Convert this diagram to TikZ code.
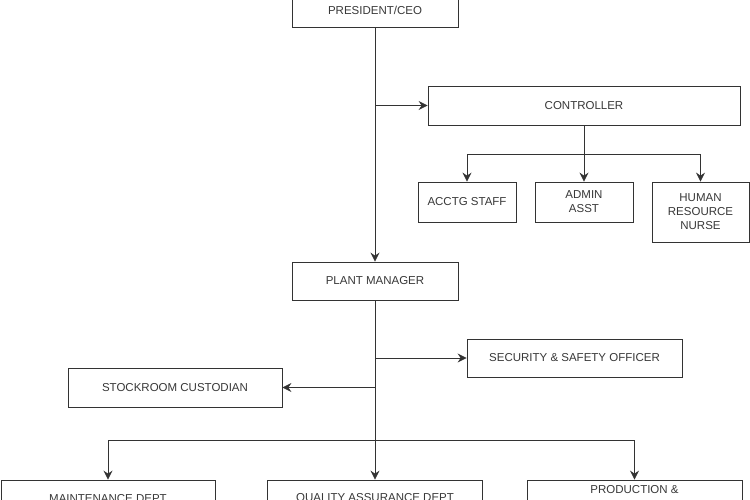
\documentclass[tikz,border=0pt]{standalone}
\usepackage{fontspec}
\setmainfont{Liberation Sans}
\usetikzlibrary{arrows.meta}
\tikzset{
    box/.style={draw=black!80, fill=white, text=black!78, align=center,
        inner sep=0pt, font=\fontsize{11.5}{14}\selectfont},
    arr/.style={draw=black!80, -{Stealth[length=9pt, width=9pt, inset=3pt]}}
}
\begin{document}
\begin{tikzpicture}[x=1pt, y=-1pt, line width=0.8pt]
    % page, cut at top and bottom
    \clip (0, 0) rectangle (750, 500);
    \fill[white] (0, 0) rectangle (750, 500);
    % top of the chart
    \node[box, minimum width=166, minimum height=34] (ceo) at (375, 10.5) {PRESIDENT/CEO};
    \node[box, minimum width=312, minimum height=39] (ctrl) at (584, 105.5) {CONTROLLER};
    \node[box, minimum width=98, minimum height=40] (acctg) at (467, 202) {ACCTG STAFF};
    \node[box, minimum width=98, minimum height=40] (admin) at (584, 202) {ADMIN\\ASST};
    \node[box, minimum width=97, minimum height=60] (hr) at (700.5, 212) {HUMAN\\RESOURCE\\NURSE};
    % plant level
    \node[box, minimum width=166, minimum height=38] (pm) at (375, 281) {PLANT MANAGER};
    \node[box, minimum width=215, minimum height=38] (sec) at (574.5, 358) {SECURITY \& SAFETY OFFICER};
    \node[box, minimum width=214, minimum height=39] (stock) at (175, 387.5) {STOCKROOM CUSTODIAN};
    % departments, cut off
    \node[box, minimum width=214, minimum height=38] (maint) at (108, 499) {MAINTENANCE DEPT};
    \node[box, minimum width=215, minimum height=38] (qa) at (375, 499) {QUALITY ASSURANCE DEPT};
    \node[box, minimum width=215, minimum height=38] (prod) at (634.5, 499) {PRODUCTION \&\\\strut};
    % branch points
    \coordinate (j1) at (375, 105.5);
    \coordinate (j2) at (584, 154);
    \coordinate (j3) at (375, 358);
    \coordinate (j4) at (375, 387.5);
    \coordinate (j5) at (375, 440);
    % connectors
    \draw[arr] (ceo) -- (pm);
    \draw[arr] (j1) -- (ctrl);
    \draw[draw=black!80] (ctrl) -- (j2);
    \draw[arr] (j2) -| (acctg);
    \draw[arr] (j2) -- (admin);
    \draw[arr] (j2) -| (hr);
    \draw[arr] (pm) -- (qa);
    \draw[arr] (j3) -- (sec);
    \draw[arr] (j4) -- (stock);
    \draw[arr] (j5) -| (maint);
    \draw[arr] (j5) -| (prod);
\end{tikzpicture}
\end{document}
